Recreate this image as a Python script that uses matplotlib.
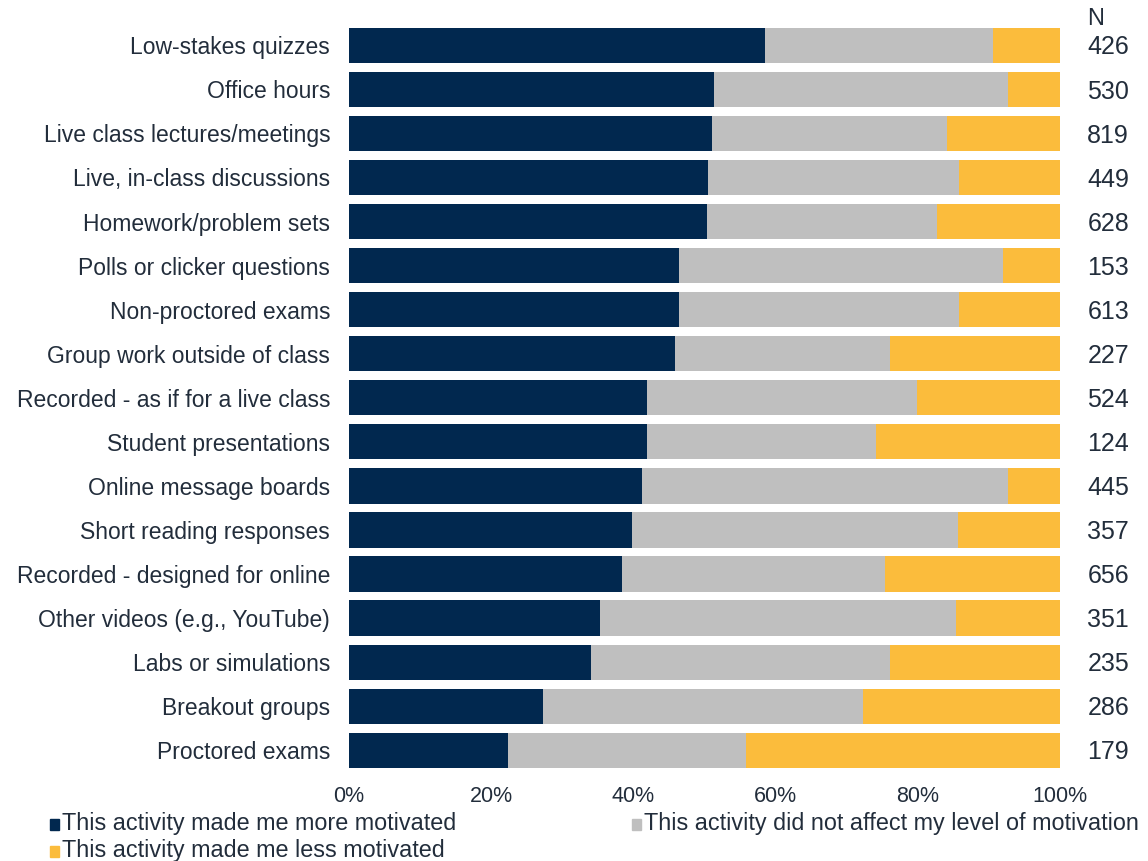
import numpy as np
import matplotlib.pyplot as plt
import matplotlib.patches as mpatches

activities = [
    "Low-stakes quizzes", "Office hours", "Live class lectures/meetings",
    "Live, in-class discussions", "Homework/problem sets", "Polls or clicker questions",
    "Non-proctored exams", "Group work outside of class", "Recorded - as if for a live class",
    "Student presentations", "Online message boards", "Short reading responses",
    "Recorded - designed for online", "Other videos (e.g., YouTube)", "Labs or simulations",
    "Breakout groups", "Proctored exams",
]
more_motivated = [58.5, 51.3, 51.1, 50.5, 50.4, 46.4, 46.4, 45.9, 41.9, 41.9,
                  41.2, 39.8, 38.4, 35.3, 34.0, 27.3, 22.4]
no_effect = [32.1, 41.5, 33.0, 35.4, 32.3, 45.7, 39.5, 30.2, 38.1, 32.2,
             51.6, 45.9, 37.0, 50.1, 42.1, 45.0, 33.4]
n_resp = [426, 530, 819, 449, 628, 153, 613, 227, 524, 124, 445, 357, 656, 351, 235, 286, 179]

less_motivated = [100 - a - b for a, b in zip(more_motivated, no_effect)]

navy = "#01284f"
gray = "#bfbfbf"
orange = "#fbbc3c"
txt = "#222d3b"

plt.rcParams['font.family'] = ['Liberation Sans', 'DejaVu Sans']

fig = plt.figure(figsize=(11.48, 8.61), dpi=100)
ax = fig.add_axes([0.304, 0.103, 0.619, 0.870])

y = np.arange(len(activities))
h = 0.8
ax.barh(y, more_motivated, height=h, color=navy)
ax.barh(y, no_effect, left=more_motivated, height=h, color=gray)
ax.barh(y, less_motivated, left=np.add(more_motivated, no_effect), height=h, color=orange)

ax.set_ylim(len(activities) - 0.5, -0.5)
ax.set_xlim(0, 100)
ax.set_yticks(y)
ax.set_yticklabels(activities, fontsize=16.5, color=txt)
ax.set_xticks([0, 20, 40, 60, 80, 100])
ax.set_xticklabels(["0%", "20%", "40%", "60%", "80%", "100%"], fontsize=15.5, color=txt)
ax.tick_params(length=0)
ax.tick_params(axis='x', pad=10)
ax.tick_params(axis='y', pad=13.5)
for s in ax.spines.values():
    s.set_visible(False)

# N column to the right of the bars
for yi, n in zip(y, n_resp):
    ax.text(103.9, yi + 0.05, str(n), fontsize=18, color=txt, ha='left', va='center')
ax.text(103.9, -0.6, "N", fontsize=17, color=txt, ha='left', va='center')

items = [
    (0.0435, 0.0355, navy, "This activity made me more motivated"),
    (0.5505, 0.0355, gray, "This activity did not affect my level of motivation"),
    (0.0435, 0.0045, orange, "This activity made me less motivated"),
]
for x0, y0, c, lab in items:
    fig.patches.append(mpatches.Rectangle((x0, y0), 0.0075, 0.0135, color=c,
                                          transform=fig.transFigure, figure=fig))
    fig.text(x0 + 0.0105, y0, lab, fontsize=16.8, color=txt, va='baseline', ha='left')

fig.savefig("out.png", dpi=100, facecolor='white')
